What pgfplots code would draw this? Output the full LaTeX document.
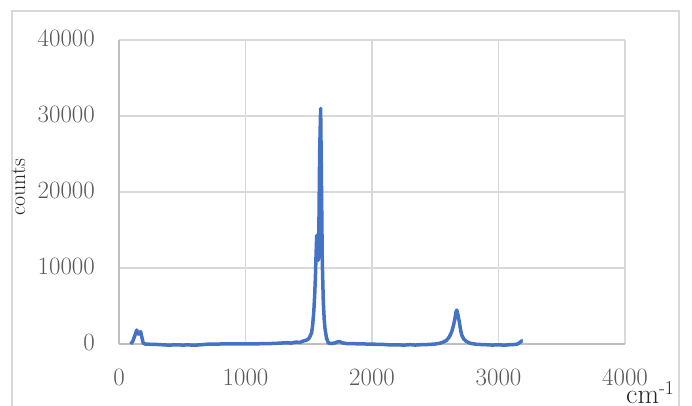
\documentclass[border=0pt]{standalone}
\usepackage{fontspec}
\usepackage{pgfplots}
\pgfplotsset{compat=1.18}
\definecolor{linec}{HTML}{4472C4}
\definecolor{gridc}{HTML}{D9D9D9}
\definecolor{axisc}{HTML}{BFBFBF}
\definecolor{labc}{HTML}{595959}

\begin{document}
\begin{tikzpicture}
\useasboundingbox (0,0) rectangle (692bp,406bp);
% chart frame
\draw[gridc, line width=1.5bp] (12bp,-20bp) rectangle (679bp,395bp);

\begin{axis}[
	at={(119bp,62bp)}, anchor=south west,
	scale only axis,
	width=506bp, height=304bp,
	xmin=0, xmax=4000,
	ymin=0, ymax=40000,
	xtick={0,1000,2000,3000,4000},
	ytick={0,10000,20000,30000,40000},
	scaled y ticks=false,
	/pgf/number format/1000 sep={},
	/pgf/number format/assume math mode=true,
	major tick length=0pt,
	grid=major,
	grid style={gridc, line width=1.3bp},
	axis lines*=left,
	axis line style={axisc, line width=1.3bp},
	tick label style={labc, font=\fontsize{25}{30}\selectfont, inner sep=0pt},
	yticklabel style={xshift=-24bp, yshift=2bp},
	xticklabel style={yshift=-25bp},
	clip=false]

	% Raman spectrum
	\addplot[color=linec, line width=3.5bp, line join=round] table {
		x y
		92 0
		110 400
		125 1100
		140 1840
		153 1300
		165 1500
		171 1620
		182 800
		192 100
		210 -20
		260 -40
		300 -60
		350 -110
		400 -150
		450 -100
		500 -140
		550 -120
		600 -160
		640 -110
		700 -30
		800 0
		900 20
		1000 10
		1100 30
		1200 60
		1280 120
		1325 170
		1360 120
		1400 260
		1430 200
		1450 350
		1484 520
		1500 700
		1510 1000
		1523 1500
		1531 2500
		1540 4300
		1547 6450
		1553 9000
		1557 11300
		1563 14300
		1568 12500
		1575 11000
		1580 15000
		1586 25000
		1594 31000
		1600 22000
		1607 10800
		1615 5600
		1622 3300
		1628 2100
		1640 800
		1655 130
		1680 60
		1710 150
		1730 300
		1747 300
		1765 150
		1800 60
		1900 20
		2000 -20
		2100 -70
		2150 -130
		2200 -100
		2250 -150
		2300 -90
		2340 -140
		2380 -100
		2450 -60
		2500 0
		2537 100
		2570 300
		2590 500
		2610 900
		2630 1600
		2645 2500
		2656 3380
		2664 4200
		2670 4470
		2680 3800
		2690 2930
		2700 1900
		2709 1180
		2725 650
		2749 300
		2780 80
		2828 -50
		2900 -90
		2950 -140
		3000 -110
		3050 -150
		3100 -80
		3144 -50
		3165 150
		3183 400
		3192 380
	};
\end{axis}

\node[rotate=90, inner sep=0pt, font=\fontsize{22}{26}\selectfont, text=black!85] at (18.5bp,219bp) {counts};
\node[anchor=base west, inner sep=0pt, font=\fontsize{28}{32}\selectfont, text=black!85] at (626bp,3bp) {cm\textsuperscript{-1}};
\end{tikzpicture}
\end{document}
